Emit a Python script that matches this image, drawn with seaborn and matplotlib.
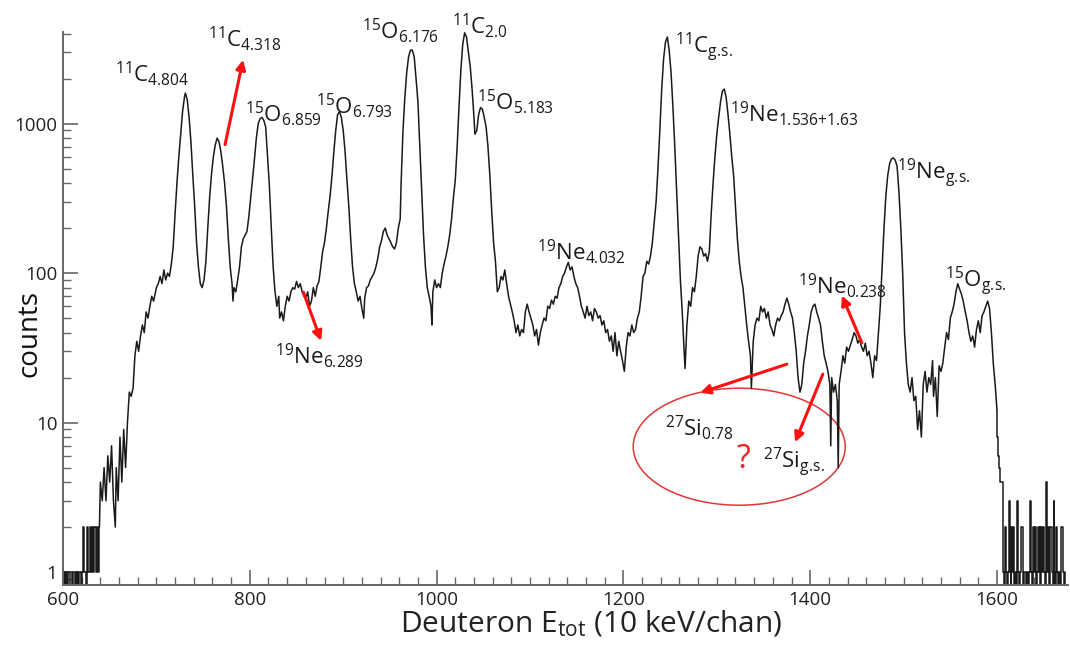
# Deuteron spectrum (log counts) with state labels
import numpy as np
import matplotlib
matplotlib.use("Agg")
import matplotlib.pyplot as plt
from matplotlib.patches import Ellipse
from matplotlib.ticker import MultipleLocator, LogLocator, FuncFormatter, NullFormatter
import seaborn as sns

# --- data ---
# sparse low-energy tail, one value per channel (600..639)
left_counts = [0, 0, 1, 0, 1, 0, 1, 1, 0, 0, 1, 0, 0, 1, 0, 1, 1, 0, 1, 1,
               0, 1, 2, 1, 1, 0, 2, 1, 1, 2, 1, 1, 2, 1, 2, 2, 1, 2, 1, 2]
left_chan = np.arange(600, 600 + len(left_counts))

# main spectrum, read every ~2 channels
main_chan = [639, 640, 642, 644, 646, 648, 650, 652, 654, 656, 657, 659, 661, 663, 665, 667, 669, 671, 673, 675,
             677, 679, 681, 683, 685, 687, 689, 691, 693, 695, 697, 700, 702, 704, 706, 708, 710, 712, 714, 716,
             718, 720, 722, 724, 726, 728, 730, 731, 733, 735, 737, 739, 741, 743, 745, 747, 749, 751, 753, 755,
             757, 759, 761, 763, 765, 767, 769, 771, 773, 775, 777, 779, 781, 782, 783, 785, 787, 789, 791, 793,
             795, 797, 799, 801, 803, 805, 807, 809, 811, 813, 815, 817, 819, 821, 823, 825, 827, 829, 831, 832,
             834, 836, 838, 840, 842, 844, 846, 848, 850, 852, 854, 856, 858, 860, 862, 864, 866, 868, 870, 872,
             874, 876, 878, 880, 882, 884, 886, 888, 890, 892, 894, 896, 898, 900, 902, 904, 906, 908, 910, 912,
             914, 916, 918, 920, 922, 923, 925, 927, 929, 931, 933, 935, 937, 939, 941, 943, 945, 947, 949, 951,
             953, 955, 957, 959, 961, 962, 964, 966, 968, 970, 972, 974, 976, 978, 980, 982, 984, 986, 988, 990,
             992, 994, 995, 996, 998, 1000, 1002, 1004, 1006, 1008, 1010, 1012, 1014, 1016, 1018, 1020, 1022, 1024, 1026, 1028,
             1030, 1032, 1034, 1036, 1038, 1040, 1041, 1043, 1045, 1047, 1049, 1051, 1053, 1055, 1057, 1059, 1061, 1063, 1065, 1067,
             1069, 1071, 1073, 1075, 1077, 1079, 1081, 1083, 1085, 1087, 1089, 1091, 1093, 1095, 1097, 1099, 1101, 1103, 1105, 1107,
             1109, 1111, 1113, 1115, 1117, 1119, 1121, 1123, 1125, 1127, 1129, 1131, 1133, 1135, 1137, 1139, 1141, 1143, 1145, 1147,
             1149, 1151, 1153, 1155, 1157, 1159, 1161, 1163, 1165, 1167, 1169, 1171, 1173, 1175, 1177, 1179, 1181, 1183, 1185, 1187,
             1189, 1191, 1193, 1195, 1197, 1199, 1201, 1203, 1205, 1207, 1209, 1211, 1213, 1215, 1217, 1219, 1221, 1223, 1225, 1227,
             1229, 1231, 1233, 1235, 1237, 1239, 1241, 1243, 1245, 1247, 1249, 1251, 1253, 1255, 1257, 1259, 1261, 1263, 1265, 1266,
             1268, 1270, 1272, 1274, 1276, 1278, 1280, 1282, 1284, 1286, 1288, 1290, 1292, 1294, 1296, 1298, 1300, 1302, 1304, 1306,
             1308, 1310, 1312, 1314, 1316, 1318, 1320, 1322, 1324, 1326, 1328, 1330, 1332, 1334, 1336, 1337, 1339, 1341, 1343, 1345,
             1347, 1349, 1351, 1353, 1355, 1357, 1359, 1361, 1363, 1365, 1367, 1369, 1371, 1373, 1375, 1377, 1379, 1381, 1383, 1385,
             1387, 1389, 1391, 1393, 1395, 1397, 1399, 1401, 1403, 1405, 1407, 1409, 1411, 1413, 1415, 1417, 1419, 1421, 1422, 1423,
             1425, 1427, 1429, 1430, 1431, 1433, 1435, 1437, 1439, 1441, 1443, 1445, 1447, 1449, 1451, 1453, 1455, 1457, 1459, 1461,
             1463, 1465, 1467, 1469, 1471, 1473, 1475, 1477, 1479, 1481, 1483, 1485, 1487, 1489, 1491, 1493, 1495, 1497, 1499, 1501,
             1503, 1505, 1507, 1509, 1511, 1513, 1515, 1517, 1519, 1521, 1523, 1525, 1527, 1529, 1531, 1532, 1534, 1536, 1538, 1540,
             1542, 1544, 1546, 1548, 1550, 1552, 1554, 1556, 1558, 1560, 1562, 1564, 1566, 1568, 1570, 1572, 1574, 1576, 1578, 1580,
             1582, 1584, 1586, 1588, 1590, 1592, 1594, 1596, 1598, 1600]
main_counts = [2, 4, 3, 5, 3, 6, 4, 7, 3, 2, 5, 3, 8, 4, 9, 5, 10, 16, 15, 17,
               28, 35, 30, 38, 45, 40, 55, 50, 60, 70, 65, 80, 85, 95, 85, 105, 90, 100, 95, 115,
               150, 250, 400, 600, 850, 1200, 1500, 1600, 1450, 1100, 750, 450, 280, 160, 110, 85, 80, 90, 120, 200,
               320, 460, 600, 720, 800, 760, 650, 520, 400, 280, 170, 110, 85, 65, 80, 75, 90, 110, 150, 170,
               180, 190, 240, 320, 430, 580, 800, 1000, 1080, 1100, 1050, 950, 600, 380, 200, 110, 75, 60, 70, 50,
               55, 48, 60, 70, 65, 75, 80, 78, 88, 80, 85, 75, 70, 68, 75, 60, 65, 80, 70, 82,
               88, 110, 140, 160, 200, 260, 330, 450, 650, 900, 1150, 1200, 1100, 900, 650, 420, 280, 170, 110, 85,
               75, 65, 70, 58, 50, 68, 80, 82, 90, 95, 100, 110, 125, 150, 165, 190, 200, 180, 170, 160,
               150, 145, 160, 200, 230, 400, 900, 1500, 2200, 2800, 3100, 3100, 2800, 2000, 1400, 700, 350, 180, 110, 80,
               70, 60, 45, 75, 90, 80, 85, 80, 100, 115, 130, 150, 180, 230, 320, 420, 700, 1300, 2300, 3400,
               4050, 3800, 3000, 2400, 1700, 1100, 850, 900, 1150, 1280, 1250, 1100, 950, 700, 450, 260, 160, 120, 75, 80,
               95, 90, 105, 85, 70, 62, 55, 48, 40, 45, 38, 42, 40, 55, 62, 55, 50, 45, 38, 42,
               33, 40, 45, 50, 48, 60, 58, 66, 62, 70, 68, 80, 85, 95, 100, 110, 118, 105, 110, 95,
               85, 80, 70, 60, 55, 50, 60, 52, 55, 48, 58, 55, 50, 52, 45, 48, 40, 42, 35, 38,
               30, 40, 28, 35, 30, 26, 22, 32, 40, 38, 45, 40, 42, 50, 55, 70, 95, 100, 120, 115,
               130, 160, 220, 300, 500, 900, 1700, 2700, 3500, 3800, 3100, 2200, 1300, 700, 350, 180, 90, 55, 30, 23,
               45, 65, 60, 80, 75, 95, 130, 150, 145, 130, 135, 120, 140, 250, 400, 600, 850, 1100, 1400, 1650,
               1700, 1500, 1150, 850, 600, 450, 280, 170, 120, 95, 80, 60, 45, 35, 28, 17, 35, 45, 50, 48,
               60, 55, 58, 50, 55, 45, 42, 38, 45, 50, 48, 52, 55, 62, 68, 62, 55, 50, 40, 30,
               20, 16, 18, 25, 30, 38, 45, 55, 60, 62, 55, 50, 45, 35, 28, 25, 22, 18, 7, 20,
               16, 18, 14, 5, 18, 22, 28, 25, 32, 30, 33, 36, 40, 38, 34, 36, 32, 30, 34, 28,
               30, 25, 20, 28, 26, 40, 60, 110, 200, 330, 450, 540, 580, 590, 570, 520, 350, 200, 100, 40,
               25, 18, 16, 20, 14, 15, 9, 12, 8, 18, 22, 16, 20, 18, 26, 15, 20, 11, 24, 22,
               25, 32, 40, 36, 50, 55, 62, 75, 85, 78, 72, 64, 55, 48, 40, 35, 38, 32, 42, 48,
               40, 52, 55, 60, 65, 58, 40, 25, 18, 12]

# sparse high-energy tail, one value per channel (1600..1673)
right_counts = [12, 8, 6, 5, 4, 4, 4, 1, 0, 2, 1, 0, 1, 3, 1, 0, 2, 1, 2, 0,
                1, 0, 3, 1, 0, 1, 2, 2, 0, 1, 1, 1, 0, 1, 0, 1, 3, 1, 0, 2,
                1, 2, 0, 1, 2, 1, 2, 0, 2, 1, 2, 1, 0, 4, 1, 2, 0, 2, 2, 1,
                0, 3, 1, 0, 2, 1, 0, 1, 0, 2, 2, 1, 0, 1]
right_chan = np.arange(1600, 1600 + len(right_counts))

# state labels (left edge, baseline)
labels = [r'$^{11}$C$_{4.804}$', r'$^{11}$C$_{4.318}$', r'$^{15}$O$_{6.859}$', r'$^{15}$O$_{6.793}$',
          r'$^{15}$O$_{6.176}$', r'$^{11}$C$_{2.0}$', r'$^{15}$O$_{5.183}$', r'$^{19}$Ne$_{6.289}$',
          r'$^{19}$Ne$_{4.032}$', r'$^{11}$C$_{g.\!s.}$', r'$^{19}$Ne$_{1.536{+}1.63}$', r'$^{19}$Ne$_{0.238}$',
          r'$^{19}$Ne$_{g.\!s.}$', r'$^{15}$O$_{g.\!s.}$', r'$^{27}$Si$_{0.78}$', r'$^{27}$Si$_{g.\!s.}$']
label_x = [655.7, 755.3, 795, 871, 920, 1016.6, 1043, 827, 1107.6, 1255.4, 1314, 1387, 1493, 1544.5, 1244.7, 1349.6]
label_y = [1905, 3262, 1032, 1166, 3687, 3981, 1240, 24.7, 124, 2924, 1032, 72.4, 423, 79.4, 8.2, 4.94]

# red arrows (tail -> head)
arrow_tail_x = [773.5, 857.3, 1375, 1413.5, 1455.3]
arrow_tail_y = [724, 74.7, 24.6, 21.1, 34.2]
arrow_head_x = [792.8, 876.3, 1282.2, 1383.8, 1433.9]
arrow_head_y = [2672, 35.2, 15.85, 7.39, 70.8]

# --- style ---
sns.set_style("white")
plt.rcParams['font.family'] = ['Open Sans', 'DejaVu Sans']
plt.rcParams['mathtext.fontset'] = 'custom'
plt.rcParams['mathtext.rm'] = 'Open Sans'
plt.rcParams['mathtext.it'] = 'Open Sans:italic'
plt.rcParams['mathtext.bf'] = 'Open Sans:bold'
plt.rcParams['mathtext.default'] = 'regular'

fig = plt.figure(figsize=(10.7, 6.45), dpi=100)
ax = fig.add_axes([63 / 1070, 60 / 645, 1005 / 1070, 553 / 645])

line_kw = dict(color='#1a1a1a', linewidth=1.1, estimator=None, sort=False, legend=False)
sns.lineplot(x=left_chan, y=left_counts, drawstyle='steps-mid', ax=ax, **line_kw)
sns.lineplot(x=main_chan, y=main_counts, ax=ax, **line_kw)
sns.lineplot(x=right_chan, y=right_counts, drawstyle='steps-mid', ax=ax, **line_kw)

ax.set_yscale('log')
ax.set_xlim(600, 1676)
ax.set_ylim(0.82, 4100)

# axes styling
for side in ['top', 'right']:
    ax.spines[side].set_visible(False)
for side in ['left', 'bottom']:
    ax.spines[side].set_color('#666666')
    ax.spines[side].set_linewidth(1.4)

ax.xaxis.set_major_locator(MultipleLocator(200))
ax.xaxis.set_minor_locator(MultipleLocator(20))
ax.yaxis.set_major_locator(LogLocator(base=10))
ax.yaxis.set_minor_locator(LogLocator(base=10, subs=np.arange(2, 10)))
ax.yaxis.set_major_formatter(FuncFormatter(lambda v, p: f'{v:g}'))
ax.yaxis.set_minor_formatter(NullFormatter())
ax.tick_params(which='both', bottom=True, left=True, top=False, right=False)
ax.tick_params(which='major', direction='in', length=11, width=1.2, color='#666666',
               labelsize=13.5, labelcolor='#222222', pad=4)
ax.tick_params(which='minor', direction='in', length=6, width=1.0, color='#666666')

ax.set_xlabel(r'Deuteron E$_{tot}$ (10 keV/chan)', fontsize=21.5, color='#222222')
ax.xaxis.set_label_coords(0.526, -0.071)
ax.xaxis.label.set_va('center')
ax.set_ylabel('counts', fontsize=20, color='#111111')
ax.yaxis.set_label_coords(-0.033, 0.455)
ax.yaxis.label.set_va('center')

# labels
for txt, x, y in zip(labels, label_x, label_y):
    ax.text(x, y, txt, fontsize=16, color='#1a1a1a', ha='left', va='baseline')
ax.text(1321, 4.94, '?', fontsize=23, color='#ee2020', ha='left', va='baseline')

# arrows
for tx, ty, hx, hy in zip(arrow_tail_x, arrow_tail_y, arrow_head_x, arrow_head_y):
    ax.annotate('', xy=(hx, hy), xytext=(tx, ty),
                arrowprops=dict(arrowstyle='-|>', color='#ff1010', lw=2.2,
                                mutation_scale=14, shrinkA=0, shrinkB=0))

# red ellipse around the 27Si region (drawn in axes fraction so it stays round on log axis)
cx, cy = ax.transAxes.inverted().transform(ax.transData.transform((1324, 6.9)))
ax.add_patch(Ellipse((cx, cy), 0.211, 0.2116, transform=ax.transAxes,
                     fill=False, edgecolor='#e53535', linewidth=1.1))

fig.savefig('out.png', dpi=100)
